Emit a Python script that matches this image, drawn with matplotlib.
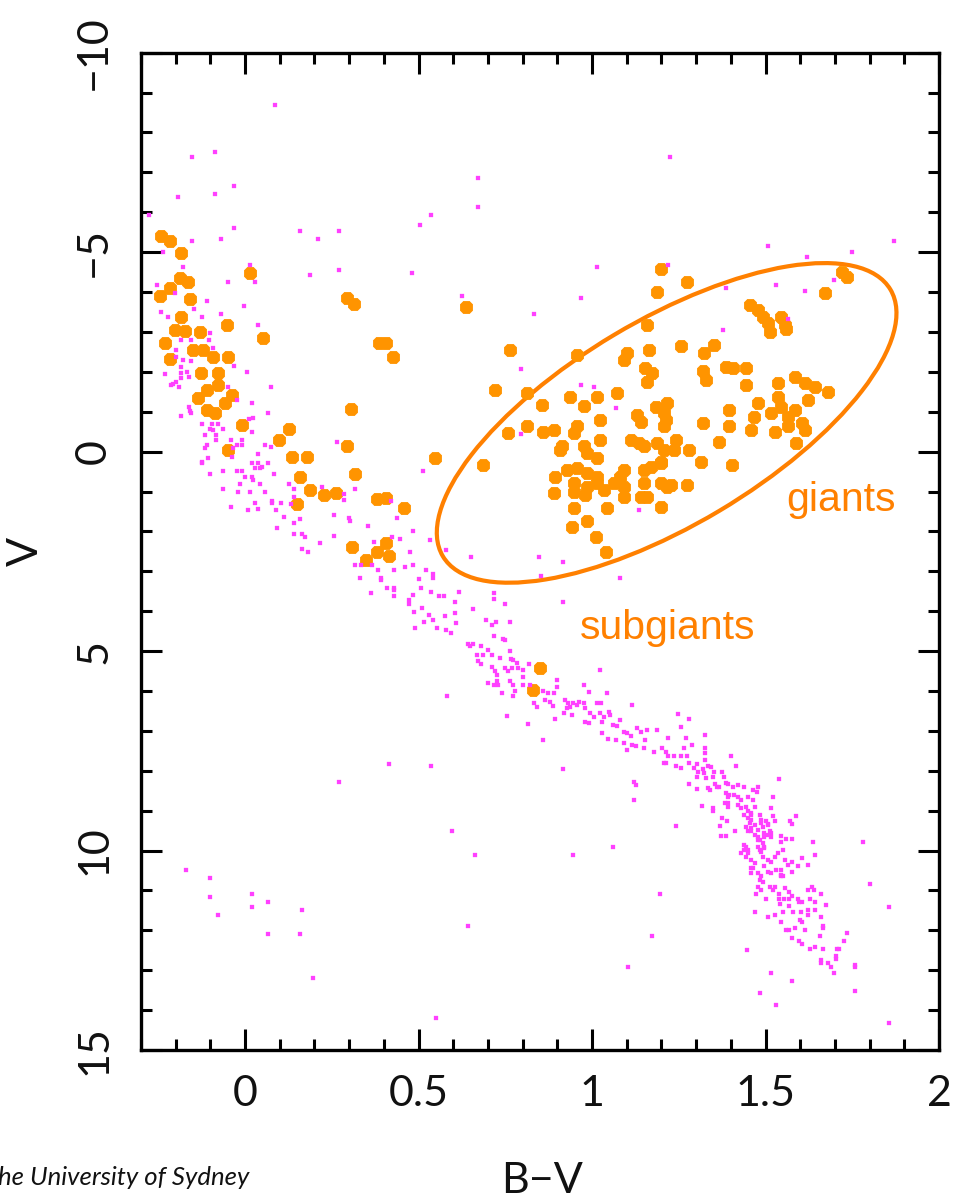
import matplotlib
matplotlib.use("Agg")
import matplotlib.pyplot as plt
from matplotlib.patches import Ellipse
from matplotlib.transforms import ScaledTranslation
from matplotlib.ticker import FixedLocator, FixedFormatter, MultipleLocator

# ---------------------------------------------------------------------------
# Stars plotted as (B-V colour, absolute magnitude V)
# ---------------------------------------------------------------------------

# luminous hot stars (orange)
hot_evolved = [
    (-0.242, -5.41), (-0.217, -5.29), (-0.184, -4.97), (-0.188, -4.35), (-0.164, -4.26),
    (-0.217, -4.10), (-0.246, -3.91), (-0.159, -3.82), (-0.184, -3.37), (-0.203, -3.05),
    (-0.174, -3.03), (-0.130, -3.01), (-0.232, -2.72), (-0.150, -2.55), (-0.121, -2.55),
    (-0.092, -2.38), (-0.217, -2.32), (-0.048, -2.38), (-0.126, -1.96), (-0.077, -1.96),
    (-0.077, -1.67), (-0.111, -1.55), (-0.135, -1.34), (-0.039, -1.42), (-0.058, -1.21),
    (-0.111, -1.05), (-0.087, -0.96), (-0.010, -0.67), (-0.053, -3.18), (0.014, -4.47),
    (0.053, -2.84), (-0.048, -0.03),
]

# stars crossing the gap (orange)
gap_stars = [
    (0.294, -3.84), (0.314, -3.70), (0.386, -2.73), (0.406, -2.73), (0.425, -2.38),
    (0.304, -1.07), (0.126, -0.56), (0.097, -0.29), (0.135, 0.13), (0.179, 0.13),
    (0.294, -0.13), (0.317, 0.56), (0.159, 0.64), (0.188, 0.96), (0.227, 1.09),
    (0.261, 1.03), (0.150, 1.31), (0.381, 1.19), (0.406, 1.17), (0.459, 1.42),
    (0.546, 0.15), (0.309, 2.38), (0.348, 2.71), (0.381, 2.51), (0.406, 2.30),
    (0.415, 2.62), (0.638, -3.63),
]

# subgiants near the main sequence (orange)
subgiant_stars = [(0.850, 5.42), (0.830, 5.97)]

# red giant branch and clump (orange)
red_giants = [
    (1.198, -4.57), (1.188, -4.01), (1.273, -4.26), (0.763, -2.55), (0.957, -2.42),
    (1.101, -2.47), (1.092, -2.30), (1.164, -2.55), (1.157, -3.18), (1.154, -2.09),
    (1.174, -1.96), (1.159, -1.75), (0.720, -1.55), (0.812, -1.46), (0.937, -1.38),
    (1.014, -1.38), (1.072, -1.46), (0.855, -1.17), (0.976, -1.15), (1.130, -0.92),
    (1.140, -0.75), (1.183, -1.13), (1.208, -0.96), (1.208, -0.63), (1.024, -0.79),
    (0.957, -0.63), (0.947, -0.46), (0.812, -0.63), (0.758, -0.46), (0.860, -0.50),
    (0.889, -0.54), (1.024, -0.29), (0.913, -0.13), (0.908, -0.04), (0.976, -0.13),
    (0.986, 0.04), (1.014, 0.17), (1.111, -0.29), (1.135, -0.21), (1.150, -0.13),
    (1.188, -0.21), (1.208, -0.04), (1.198, 0.25), (0.686, 0.33), (0.894, 0.63),
    (0.928, 0.46), (0.957, 0.42), (0.986, 0.54), (1.014, 0.63), (0.947, 0.79),
    (0.986, 0.88), (1.014, 0.79), (1.034, 0.96), (1.063, 0.79), (1.082, 0.63),
    (1.092, 0.46), (1.092, 0.88), (0.889, 1.04), (0.947, 1.00), (0.981, 1.09),
    (1.150, 0.46), (1.169, 0.38), (1.198, 0.29), (1.150, 0.79), (1.159, 1.13),
    (1.140, 1.13), (1.198, 0.79), (1.217, 0.88), (1.198, 1.38), (0.947, 1.42),
    (1.043, 1.42), (1.092, 1.13), (0.986, 1.75), (0.942, 1.88), (1.010, 2.13),
    (1.039, 2.51),
    (1.720, -4.50), (1.734, -4.38), (1.671, -3.97), (1.454, -3.68), (1.478, -3.55),
    (1.493, -3.38), (1.507, -3.22), (1.512, -3.01), (1.546, -3.38), (1.555, -3.18),
    (1.560, -3.07), (1.256, -2.65), (1.352, -2.67), (1.323, -2.47), (1.386, -2.13),
    (1.406, -2.09), (1.445, -2.09), (1.319, -2.01), (1.328, -1.80), (1.445, -1.67),
    (1.217, -1.21), (1.212, -0.79), (1.396, -1.05), (1.319, -0.71), (1.396, -0.63),
    (1.367, -0.25), (1.241, -0.29), (1.237, -0.04), (1.280, -0.04), (1.314, 0.25),
    (1.403, 0.33), (1.227, 0.84), (1.275, 0.84),
    (1.584, -1.88), (1.613, -1.71), (1.642, -1.63), (1.681, -1.50), (1.536, -1.71),
    (1.536, -1.38), (1.478, -1.21), (1.468, -0.88), (1.459, -0.54), (1.517, -0.96),
    (1.546, -1.13), (1.565, -0.88), (1.584, -1.05), (1.604, -0.71), (1.623, -1.30),
    (1.613, -0.54), (1.527, -0.50), (1.565, -0.63), (1.589, -0.21),
]

# scattered field stars, bright end (magenta)
field_bright = [
    (0.087, -8.69), (-0.154, -7.38), (-0.086, -7.50), (0.671, -6.85), (1.226, -7.38),
    (-0.194, -6.39), (-0.086, -6.46), (-0.033, -6.66), (0.671, -6.13), (-0.277, -5.94),
    (0.535, -5.94), (0.505, -5.67), (-0.033, -5.61), (0.157, -5.54), (0.270, -5.54),
    (-0.070, -5.34), (0.210, -5.34), (-0.154, -5.27), (-0.237, -5.01), (1.507, -5.15),
    (1.869, -5.27), (1.749, -5.01), (1.619, -4.89), (0.013, -4.68), (-0.179, -4.62),
    (0.270, -4.55), (0.482, -4.49), (0.188, -4.43), (1.013, -4.62), (1.218, -4.68),
    (-0.049, -4.24), (0.028, -4.24), (-0.253, -4.17), (1.387, -4.10), (1.529, -4.17),
    (1.613, -4.03), (1.696, -4.30), (0.625, -3.90), (0.967, -3.84), (-0.110, -3.78),
    (-0.002, -3.65), (-0.203, -3.97), (0.833, -3.46), (0.794, -2.07), (0.969, -1.67),
    (1.007, -1.61), (1.068, -1.09), (0.794, -0.44), (1.135, 1.46), (0.543, 3.07),
    (1.565, -3.32), (1.377, -3.05),
]

# upper main sequence (magenta)
ms_upper = [
    (-0.243, -3.51), (-0.147, -3.58), (-0.070, -3.44), (-0.222, -3.38), (-0.123, -3.38),
    (0.036, -3.18), (-0.100, -2.98), (-0.104, -2.80), (-0.184, -2.80), (-0.157, -2.80),
    (-0.200, -2.55), (-0.200, -2.38), (-0.092, -2.59), (-0.179, -2.30), (-0.155, -2.27),
    (-0.032, -2.15), (-0.184, -2.13), (-0.184, -1.96), (-0.184, -1.84), (-0.232, -1.95),
    (-0.166, -2.00), (-0.161, -1.88), (0.005, -2.00), (-0.208, -1.70), (-0.214, -1.67),
    (-0.198, -1.75), (-0.191, -1.61), (-0.048, -1.61), (0.075, -1.61), (-0.024, -1.30),
    (0.021, -1.23), (-0.161, -1.13), (-0.159, -1.03), (0.066, -0.96), (-0.184, -0.89),
    (-0.155, -0.96), (-0.123, -0.69), (-0.095, -0.69), (-0.077, -0.69), (-0.101, -0.56),
    (-0.092, -0.54), (-0.063, -0.56), (0.012, -0.83), (0.021, -0.50), (-0.116, -0.42),
    (-0.085, -0.42), (-0.085, -0.29), (-0.041, -0.29), (-0.010, -0.29), (-0.024, -0.17),
    (-0.010, -0.17), (-0.111, -0.17), (-0.116, -0.09), (-0.108, 0.15), (-0.123, 0.25),
    (-0.123, 0.29), (-0.063, 0.48), (-0.101, 0.56), (-0.039, 0.14), (-0.034, -0.09),
    (0.058, -0.17), (0.074, -0.11), (0.036, 0.06), (0.036, 0.29), (0.019, 0.29),
    (0.066, 0.29), (0.029, 0.42), (0.043, 0.42), (0.050, 0.38), (-0.024, 0.48),
    (-0.010, 0.48), (0.000, 0.63), (0.019, 0.63), (0.082, 0.56), (0.024, 0.71),
    (0.043, 0.81), (-0.014, 0.81), (-0.063, 0.94), (-0.019, 1.00), (0.014, 1.00),
    (0.058, 1.00), (0.128, 0.81), (0.140, 0.93), (0.029, 1.28), (0.077, 1.29),
    (0.077, 1.24), (0.104, 1.28), (0.140, 1.13), (-0.041, 1.39), (0.008, 1.46),
    (0.037, 1.44), (0.089, 1.46), (0.285, 1.07), (0.317, 0.94), (0.285, 1.21),
    (0.256, 1.59), (0.111, 1.64), (0.159, 1.69), (0.222, 0.89), (0.024, -0.84),
    (0.264, -0.24), (0.512, 0.48), (0.420, 1.25), (0.300, 1.67), (0.438, 1.67),
    (0.133, 1.31),
    (0.092, 1.92), (0.142, 1.79), (0.142, 2.06), (0.164, 2.06), (0.172, 2.13),
    (0.164, 2.45), (0.181, 2.52), (0.217, 2.28), (0.256, 2.11), (0.301, 1.73),
    (0.355, 1.86), (0.372, 2.26), (0.317, 2.84), (0.333, 2.84), (0.331, 3.16),
    (0.367, 2.84), (0.384, 2.98), (0.391, 3.17), (0.391, 3.21), (0.410, 3.42),
    (0.430, 3.42), (0.430, 3.48), (0.430, 3.63), (0.430, 2.98), (0.362, 3.55),
    (0.422, 2.13), (0.446, 2.20), (0.461, 2.90), (0.476, 2.51), (0.483, 2.84),
    (0.483, 2.00), (0.500, 3.20), (0.507, 3.42), (0.520, 2.98), (0.537, 3.51),
    (0.543, 3.17), (0.558, 3.63), (0.573, 3.63), (0.604, 3.76), (0.580, 2.46),
    (0.471, 3.72), (0.471, 3.82), (0.483, 3.59), (0.488, 4.01), (0.510, 3.92),
    (0.531, 4.09), (0.517, 4.26), (0.543, 4.22), (0.491, 4.43), (0.554, 4.43),
    (0.575, 4.13), (0.580, 4.47), (0.594, 4.55), (0.604, 4.05), (0.609, 4.30),
    (0.533, 2.21),
]

# middle main sequence (magenta)
ms_middle = [
    (0.650, 2.63), (0.718, 3.55), (0.718, 3.69), (0.749, 3.82), (0.657, 3.95),
    (0.694, 4.22), (0.722, 4.26), (0.713, 4.34), (0.763, 4.27), (0.718, 4.62),
    (0.744, 4.70), (0.749, 4.72), (0.763, 5.01), (0.712, 5.10), (0.734, 5.18),
    (0.700, 4.97), (0.679, 4.87), (0.642, 4.83), (0.647, 4.87), (0.657, 4.82),
    (0.667, 5.10), (0.686, 5.10), (0.671, 5.24), (0.681, 5.32), (0.713, 5.41),
    (0.720, 5.51), (0.749, 5.43), (0.758, 5.51), (0.768, 5.43), (0.773, 5.22),
    (0.787, 5.43), (0.800, 5.47), (0.800, 5.64), (0.819, 5.32), (0.725, 5.60),
    (0.727, 5.76), (0.700, 5.79), (0.718, 5.86), (0.729, 5.86), (0.741, 6.04),
    (0.763, 5.76), (0.773, 5.85), (0.778, 5.99), (0.802, 5.86), (0.771, 6.12),
    (0.581, 6.12), (0.821, 5.86), (0.860, 6.00), (0.874, 6.04), (0.833, 6.31),
    (0.841, 6.39), (0.865, 6.22), (0.879, 6.27), (0.887, 6.37), (0.899, 5.72),
    (0.900, 5.89), (0.891, 6.05), (0.923, 6.22), (0.932, 6.31), (0.937, 6.39),
    (0.928, 6.43), (0.945, 6.31), (0.958, 6.35), (0.961, 6.27), (0.976, 6.29),
    (0.981, 6.43), (0.990, 6.02), (0.976, 5.85), (1.022, 5.47), (1.014, 6.31),
    (1.026, 6.31), (1.043, 6.05), (0.995, 6.56), (1.005, 6.64), (0.918, 6.56),
    (0.942, 6.60), (0.981, 6.77), (0.990, 6.81), (1.022, 6.56), (1.034, 6.64),
    (1.029, 6.77), (1.048, 6.52), (1.053, 6.60), (1.061, 6.85), (1.072, 6.89),
    (1.082, 6.72), (1.092, 7.02), (1.101, 7.06), (1.111, 7.14), (1.130, 6.93),
    (1.140, 7.02), (1.070, 7.23), (1.092, 7.31), (1.029, 7.06), (1.045, 7.20),
    (1.116, 7.35), (1.126, 7.39), (1.154, 7.23), (1.150, 7.43), (0.755, 6.62),
    (0.816, 6.82), (0.860, 7.23), (0.894, 6.71), (1.082, 3.18), (1.114, 6.35),
    (0.915, 3.76), (0.853, 3.11), (0.847, 2.63), (0.915, 2.76), (0.616, 3.51),
    (0.766, 5.20), (0.783, 5.29),
]

# lower main sequence (magenta)
ms_lower = [
    (1.248, 6.57), (1.279, 6.71), (1.256, 6.91), (1.188, 6.98), (1.219, 7.17),
    (1.271, 7.17), (1.325, 7.10), (1.287, 7.36), (1.325, 7.43), (1.325, 7.56),
    (1.264, 7.43), (1.203, 7.43), (1.212, 7.52), (1.235, 7.63), (1.256, 7.63),
    (1.273, 7.63), (1.219, 7.63), (1.206, 7.81), (1.212, 7.81), (1.241, 7.88),
    (1.256, 7.93), (1.280, 7.81), (1.302, 7.83), (1.325, 7.74), (1.335, 7.88),
    (1.343, 7.91), (1.319, 7.96), (1.323, 8.06), (1.328, 8.19), (1.304, 8.02),
    (1.294, 7.93), (1.302, 8.15), (1.352, 8.02), (1.348, 8.15), (1.374, 8.04),
    (1.380, 8.15), (1.401, 7.63), (1.415, 7.88), (1.280, 8.33), (1.302, 8.46),
    (1.333, 8.44), (1.341, 8.48), (1.355, 8.33), (1.360, 8.40), (1.386, 8.30),
    (1.391, 8.33), (1.406, 8.40), (1.420, 8.35), (1.367, 8.41), (1.317, 8.88),
    (1.348, 8.94), (1.348, 9.01), (1.386, 8.56), (1.391, 8.65), (1.396, 8.60),
    (1.383, 8.81), (1.391, 8.90), (1.393, 8.81), (1.410, 8.60), (1.420, 8.65),
    (1.430, 8.73), (1.422, 8.85), (1.428, 8.94), (1.439, 8.40), (1.449, 8.65),
    (1.444, 8.90), (1.449, 9.02), (1.459, 9.10), (1.464, 8.48), (1.474, 8.54),
    (1.464, 8.73), (1.477, 8.41), (1.469, 8.90), (1.538, 8.21), (1.522, 8.67),
    (1.515, 8.94), (1.522, 9.13), (1.589, 9.13), (1.570, 9.27), (1.575, 9.33),
    (1.502, 9.27), (1.507, 9.33), (1.527, 9.27), (1.483, 9.10), (1.488, 9.23),
    (1.493, 9.40), (1.439, 9.10), (1.449, 9.19), (1.459, 9.23), (1.454, 9.31),
    (1.444, 9.40), (1.449, 9.52), (1.459, 9.44), (1.478, 9.48), (1.478, 9.65),
    (1.483, 9.73), (1.497, 9.56), (1.507, 9.61), (1.517, 9.65), (1.546, 9.63),
    (1.560, 9.71), (1.575, 9.71), (1.413, 9.52), (1.389, 9.25), (1.372, 9.63),
    (1.386, 9.63), (1.370, 9.38), (1.241, 9.38), (1.121, 8.27), (1.127, 8.35),
    (1.121, 8.73), (1.059, 9.90), (1.781, 9.79), (1.638, 9.79), (1.642, 10.11),
    (1.604, 10.19), (1.621, 10.36), (1.439, 9.86), (1.449, 9.98), (1.444, 10.15),
    (1.459, 10.23), (1.469, 10.32), (1.459, 10.44), (1.478, 9.90), (1.488, 10.03),
    (1.497, 9.94), (1.493, 10.15), (1.507, 10.23), (1.517, 10.28), (1.527, 10.15),
    (1.555, 10.23), (1.565, 10.36), (1.575, 10.28), (1.594, 10.40), (1.497, 10.40),
    (1.507, 10.53), (1.517, 10.57), (1.531, 10.48), (1.544, 10.61), (1.551, 10.65),
    (1.488, 10.65), (1.478, 10.57), (1.575, 10.53), (1.430, 10.07), (1.157, 6.98),
    (1.179, 7.52), (1.101, 7.48),
    (1.469, 11.55), (1.507, 11.67), (1.528, 11.61), (1.546, 11.80), (1.478, 10.92),
    (1.488, 10.98), (1.502, 11.22), (1.473, 11.09), (1.512, 10.92), (1.522, 10.98),
    (1.527, 10.92), (1.538, 11.09), (1.538, 11.22), (1.541, 11.34), (1.555, 10.94),
    (1.567, 11.03), (1.575, 11.15), (1.567, 11.22), (1.554, 11.22), (1.567, 11.39),
    (1.551, 11.55), (1.580, 11.55), (1.594, 11.22), (1.596, 11.28), (1.606, 11.28),
    (1.623, 10.98), (1.633, 10.92), (1.641, 11.00), (1.659, 11.09), (1.628, 11.22),
    (1.642, 11.28), (1.673, 11.36), (1.621, 11.49), (1.621, 11.61), (1.642, 11.49),
    (1.602, 11.55), (1.599, 11.74), (1.604, 11.80), (1.659, 11.67), (1.667, 11.89),
    (1.667, 11.94), (1.613, 12.00), (1.584, 11.94), (1.567, 12.00), (1.560, 12.00),
    (1.656, 12.14), (1.575, 12.19), (1.597, 12.26), (1.604, 12.34), (1.628, 12.46),
    (1.642, 12.41), (1.667, 12.46), (1.705, 12.46), (1.712, 12.46), (1.726, 12.28),
    (1.734, 12.07), (1.703, 12.65), (1.703, 12.72), (1.659, 12.74), (1.659, 12.81),
    (1.681, 12.81), (1.688, 12.92), (1.696, 13.06), (1.757, 12.86), (1.757, 12.92),
    (1.757, 13.51), (1.575, 13.26), (1.515, 13.06), (1.446, 12.49), (1.484, 13.57),
    (1.801, 10.83), (1.855, 11.42), (1.459, 9.06), (1.469, 9.36), (1.459, 9.52),
    (1.469, 9.61), (1.488, 9.31), (1.507, 9.36), (1.512, 9.52), (1.517, 9.56),
    (1.497, 9.65), (1.478, 9.73), (1.493, 9.81), (1.497, 9.90), (1.483, 9.98),
    (1.444, 9.90), (1.439, 9.98), (1.449, 10.07), (1.536, 10.07), (1.551, 9.98),
    (1.546, 10.48), (1.546, 10.65), (1.483, 10.73), (1.493, 10.78), (1.459, 10.57),
    (1.464, 10.44), (1.376, 9.19), (1.544, 9.78),
]

# scattered faint field stars (magenta)
field_faint = [
    (0.415, 7.83), (0.535, 7.89), (0.270, 8.28), (0.915, 7.95), (0.596, 9.52),
    (0.664, 10.12), (0.945, 10.12), (1.195, 11.09), (1.172, 12.15), (1.105, 12.93),
    (0.643, 11.88), (-0.169, 10.50), (-0.101, 10.70), (-0.101, 11.16), (-0.077, 11.62),
    (0.019, 11.09), (0.019, 11.42), (0.066, 11.29), (0.066, 12.08), (0.164, 11.49),
    (0.157, 12.08), (0.195, 13.19), (0.551, 14.19), (1.529, 13.87), (1.856, 14.32),
]

x_ticks = [0, 0.5, 1, 1.5, 2]
x_tick_labels = ["0", "0.5", "1", "1.5", "2"]
y_ticks = [-10, -5, 0, 5, 10, 15]
y_tick_labels = ["\u221210", "\u22125", "0", "5", "10", "15"]

ORANGE = "#ff9400"
OUTLINE = "#ff8000"
MAGENTA = "#ff40ff"

W, H = 955, 1203
fig = plt.figure(figsize=(W / 100, H / 100), dpi=100)
ax = fig.add_axes([141 / W, 1 - 1050 / H, (939 - 141) / W, (1050 - 52.7) / H])

tick_font = dict(family=["Lato", "DejaVu Sans"], weight="normal", size=31, color="#111111")


def unzip(points):
    return [p[0] for p in points], [p[1] for p in points]


for group in (hot_evolved, gap_stars, subgiant_stars, red_giants):
    bv, mag = unzip(group)
    ax.plot(bv, mag, linestyle="none", marker="8", markersize=10,
            markerfacecolor=ORANGE, markeredgecolor=ORANGE, markeredgewidth=0.6)

for group in (field_bright, ms_upper, ms_middle, ms_lower, field_faint):
    bv, mag = unzip(group)
    ax.plot(bv, mag, linestyle="none", marker="s", markersize=2.3,
            markerfacecolor=MAGENTA, markeredgecolor=MAGENTA, markeredgewidth=0.2)

# ellipse enclosing the giant branch, sized in inches and centred in data units
ring = Ellipse((0, 0), width=5.21, height=2.05, angle=30.8, fill=False,
               edgecolor=OUTLINE, linewidth=3.0,
               transform=fig.dpi_scale_trans + ScaledTranslation(1.215, -0.72, ax.transData))
ax.add_patch(ring)

ax.set_xlim(-0.3, 2.0)
ax.set_ylim(15, -10)

ax.xaxis.set_major_locator(FixedLocator(x_ticks))
ax.xaxis.set_major_formatter(FixedFormatter(x_tick_labels))
ax.xaxis.set_minor_locator(MultipleLocator(0.1))
ax.yaxis.set_major_locator(FixedLocator(y_ticks))
ax.yaxis.set_major_formatter(FixedFormatter(y_tick_labels))
ax.yaxis.set_minor_locator(MultipleLocator(1))

ax.tick_params(which="both", direction="in", top=True, right=True, width=2.2, color="black")
ax.tick_params(which="major", length=15)
ax.tick_params(which="minor", length=8)
ax.tick_params(axis="x", which="major", pad=18)
ax.tick_params(axis="y", which="major", pad=20)
for lab in ax.get_xticklabels():
    lab.set(**tick_font)
for lab in ax.get_yticklabels():
    lab.set(rotation=90, va="center", **tick_font)
for sp in ax.spines.values():
    sp.set_linewidth(2.4)

fig.text(542 / W, 1 - 1181 / H, "B\u2212V", ha="center", va="center", **tick_font)
fig.text(26 / W, 1 - 551 / H, "V", ha="center", va="center", rotation=90, **tick_font)

label_font = dict(family=["Liberation Sans", "DejaVu Sans"], size=29.5, color=OUTLINE)
fig.text(786 / W, 1 - 511 / H, "giants", ha="left", va="baseline", **label_font)
fig.text(580 / W, 1 - 639 / H, "subgiants", ha="left", va="baseline", **label_font)

# credit line at the lower-left edge of the figure
fig.text(249 / W, 1 - 1185 / H, "he University of Sydney", ha="right", va="baseline",
         family=["Lato", "DejaVu Sans"], style="italic", size=18.5, color="#111111")

fig.savefig("out.png", dpi=100, facecolor="white")
